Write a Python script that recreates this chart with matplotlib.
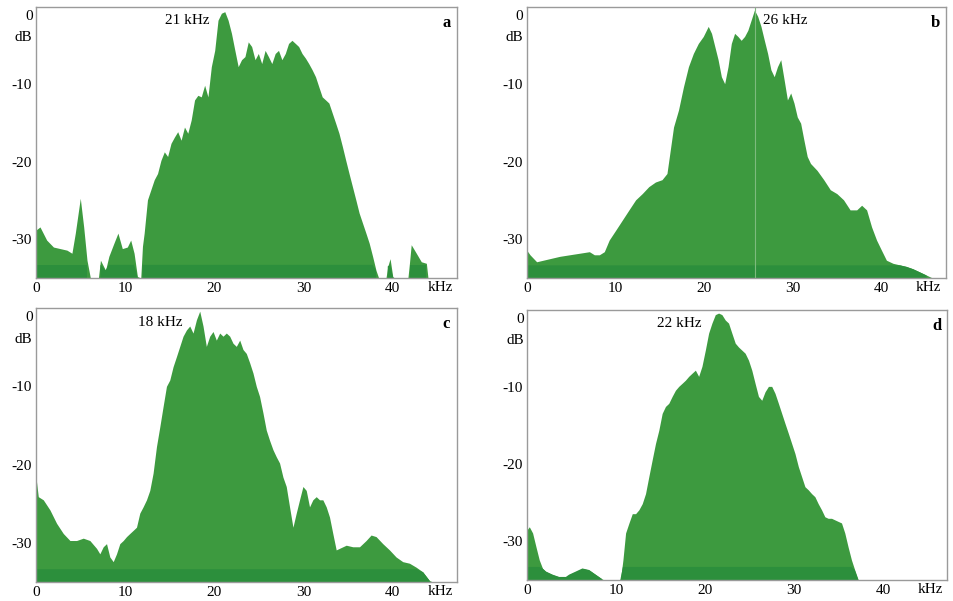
import numpy as np
import matplotlib.pyplot as plt

plt.rcParams["axes.unicode_minus"] = False

GREEN = "#3d9a3f"
BAND_GREEN = "#2c8f3c"
FRAME = "#9a9a9a"
FONT = "Liberation Serif"
FLOOR = -35
BAND_TOP = -33.3

# panel a, peak 21 kHz
freq_a = [0.0, 0.45, 1.2, 1.96, 3.47, 4.03, 4.41, 4.97, 5.35, 5.72, 6.1, 6.3,
          7.0, 7.23, 7.8, 8.17, 8.74, 9.19, 9.68, 10.24, 10.62, 11.0, 11.37, 11.75,
          11.94, 12.13, 12.5, 12.88, 13.26, 13.63, 14.01, 14.39, 14.76, 15.14,
          15.52, 15.89, 16.27, 16.65, 17.02, 17.4, 17.78, 18.15, 18.53, 18.91,
          19.28, 19.66, 20.04, 20.41, 20.79, 21.17, 21.54, 21.92, 22.3, 22.67,
          23.05, 23.43, 23.8, 24.18, 24.56, 24.93, 25.31, 25.69, 26.06, 26.44,
          26.82, 27.19, 27.57, 27.95, 28.32, 28.7, 29.08, 29.45, 29.83, 30.21,
          30.58, 30.96, 31.34, 31.71, 32.09, 32.47, 32.84, 33.22, 33.6, 33.97,
          34.35, 34.73, 35.1, 35.48, 35.86, 36.23, 36.61, 36.99, 37.36, 37.74,
          38.12, 38.42, 38.6, 39.24, 39.44, 39.7, 40.0, 40.2, 41.7, 41.88, 42.07,
          42.64, 43.2, 43.77, 43.95, 44.14, 47.2]
db_a = [-28.8, -28.4, -30.1, -31.0, -31.4, -31.8, -29.2, -24.7, -28.4, -32.7, -35.0, -36,
        -36, -32.7, -34.0, -32.2, -30.5, -29.2, -31.2, -31.0, -30.1, -31.8, -34.8, -36,
        -30.9, -29.2, -24.9, -23.6, -22.3, -21.5, -19.8, -18.7, -19.3, -17.6,
        -16.8, -16.1, -17.2, -15.5, -16.3, -14.6, -12.0, -11.4, -11.6, -10.1,
        -11.6, -7.7, -5.6, -1.7, -0.8, -0.6, -1.7, -3.4, -5.6, -7.7,
        -6.8, -6.4, -4.5, -5.1, -6.8, -6.0, -7.3, -5.6, -6.4, -7.3,
        -6.0, -5.6, -6.8, -6.0, -4.7, -4.3, -4.7, -5.1, -6.0, -6.6,
        -7.3, -8.1, -9.0, -10.3, -11.6, -12.0, -12.4, -13.7, -15.0, -16.3,
        -18.0, -19.8, -21.5, -23.2, -24.9, -26.6, -27.9, -29.2, -30.5, -32.2,
        -34.0, -35.0, -36, -36, -33.5, -32.5, -34.8, -36, -36, -33.0, -30.7,
        -31.8, -32.9, -33.1, -35.0, -36, -36]

# panel b, peak 26 kHz
freq_b = [0.0, 0.37, 1.12, 1.86, 2.6, 3.72, 4.83, 5.95, 7.06, 7.62, 8.18, 8.74,
          9.29, 10.04, 10.78, 11.52, 12.27, 13.01, 13.75, 14.5, 15.24, 15.8,
          16.17, 16.54, 17.1, 17.66, 18.22, 18.77, 19.33, 19.89, 20.45, 20.82,
          21.19, 21.56, 21.93, 22.3, 22.68, 23.05, 23.42, 23.79, 24.16, 24.54,
          24.91, 25.28, 25.65, 26.02, 26.39, 26.77, 27.14, 27.51, 27.88, 28.25,
          28.62, 29.0, 29.37, 29.74, 30.11, 30.48, 30.86, 31.23, 31.6, 31.97,
          32.71, 33.46, 34.2, 34.94, 35.69, 36.43, 37.17, 37.73, 38.29, 38.85,
          39.41, 39.96, 40.52, 41.26, 42.01, 42.75, 43.49, 44.24, 44.98, 45.72,
          46.28, 47.2]
db_b = [-31.4, -32.0, -32.9, -32.7, -32.5, -32.2, -32.0, -31.8, -31.6, -32.0, -32.0, -31.6,
        -30.1, -28.8, -27.5, -26.2, -24.9, -24.1, -23.2, -22.6, -22.3, -21.5,
        -18.5, -15.5, -13.3, -10.3, -7.7, -6.0, -4.7, -3.8, -2.5, -3.4,
        -5.1, -6.8, -9.0, -9.9, -7.7, -4.7, -3.4, -3.8, -4.3, -3.8,
        -3.0, -1.7, -0.4, -1.2, -2.5, -4.3, -6.0, -8.1, -9.0, -7.7,
        -6.8, -9.4, -12.0, -11.1, -12.4, -14.2, -15.0, -17.2, -19.3, -20.2,
        -21.1, -22.3, -23.6, -24.1, -24.9, -26.2, -26.2, -25.6, -26.2, -28.4,
        -30.1, -31.4, -32.7, -33.1, -33.3, -33.5, -33.8, -34.2, -34.6, -35.0,
        -36, -36]

# panel c, peak 18 kHz
freq_c = [0.0, 0.26, 0.82, 1.57, 2.31, 3.06, 3.81, 4.55, 5.3, 6.04, 6.79, 7.16,
          7.54, 7.91, 8.28, 8.66, 9.03, 9.4, 9.78, 10.15, 10.52, 10.9, 11.27,
          11.64, 12.01, 12.39, 12.76, 13.13, 13.51, 13.88, 14.25, 14.63, 15.0,
          15.37, 15.75, 16.12, 16.49, 16.87, 17.24, 17.61, 17.99, 18.36, 18.73,
          19.1, 19.48, 19.85, 20.22, 20.6, 20.97, 21.34, 21.72, 22.09, 22.46,
          22.84, 23.21, 23.58, 23.96, 24.33, 24.7, 25.07, 25.45, 25.82, 26.19,
          26.57, 26.94, 27.31, 27.69, 28.06, 28.43, 28.81, 29.18, 29.55, 29.93,
          30.3, 30.67, 31.04, 31.42, 31.79, 32.16, 32.54, 32.91, 33.28, 33.66,
          34.03, 34.78, 35.52, 36.27, 37.01, 37.57, 38.13, 38.88, 39.63, 40.37,
          41.12, 41.87, 42.61, 43.36, 44.1, 44.48, 44.85, 47.2]
db_c = [-21.6, -24.1, -24.5, -25.8, -27.5, -28.8, -29.7, -29.7, -29.4, -29.7, -30.7, -31.4,
        -30.5, -30.1, -31.8, -32.4, -31.4, -30.1, -29.7, -29.2, -28.8, -28.4, -28.0,
        -26.2, -25.4, -24.5, -23.3, -21.1, -17.7, -15.2, -12.6, -10.0, -9.2,
        -7.5, -6.2, -4.9, -3.6, -2.8, -2.3, -3.2, -1.5, -0.4, -2.3,
        -4.9, -3.6, -3.0, -4.1, -3.2, -3.6, -3.2, -3.6, -4.5, -4.9,
        -4.1, -5.3, -5.8, -7.0, -8.3, -10.0, -11.3, -13.4, -15.6, -16.9,
        -18.1, -19.0, -19.8, -21.6, -22.8, -25.4, -28.0, -26.2, -24.5, -22.8,
        -23.3, -25.4, -24.5, -24.1, -24.5, -24.5, -25.4, -26.7, -28.8, -30.9,
        -30.7, -30.3, -30.5, -30.5, -29.7, -29.0, -29.2, -30.1, -30.9, -31.8,
        -32.4, -32.6, -33.1, -33.7, -34.8, -35.0, -36, -36]

# panel d, peak 22 kHz
freq_d = [0.0, 0.26, 0.63, 1.01, 1.38, 1.75, 2.13, 2.87, 3.62, 4.37, 4.74, 5.49,
          6.23, 6.98, 7.72, 8.47, 8.84, 10.34, 10.52, 10.78, 11.08, 11.46, 11.83,
          12.2, 12.57, 12.95, 13.32, 13.69, 14.07, 14.44, 14.81, 15.19, 15.56,
          15.93, 16.31, 16.68, 17.05, 17.43, 17.8, 18.17, 18.54, 18.92, 19.29,
          19.66, 20.04, 20.41, 20.78, 21.16, 21.53, 21.9, 22.28, 22.65, 23.02,
          23.4, 23.77, 24.14, 24.51, 24.89, 25.26, 25.63, 26.01, 26.38, 26.75,
          27.13, 27.5, 27.87, 28.25, 28.62, 28.99, 29.37, 29.74, 30.11, 30.49,
          30.86, 31.23, 31.6, 31.98, 32.35, 32.72, 33.1, 33.47, 33.84, 34.22,
          34.59, 34.96, 35.34, 35.71, 36.08, 36.46, 36.83, 37.2, 37.39, 47.2]
db_d = [-28.5, -28.1, -28.9, -30.7, -32.4, -33.5, -33.9, -34.3, -34.6, -34.6, -34.3, -33.9,
        -33.5, -33.7, -34.3, -34.9, -36, -36, -34.8, -32.4, -28.9, -27.6, -26.4,
        -26.4, -25.9, -25.1, -23.8, -21.6, -19.4, -17.3, -15.6, -13.4, -12.5,
        -12.1, -11.2, -10.4, -9.9, -9.5, -9.1, -8.6, -8.2, -7.8, -8.6,
        -7.3, -5.2, -3.0, -1.7, -0.6, -0.4, -0.6, -1.3, -1.7, -3.0,
        -4.3, -4.8, -5.2, -5.6, -6.5, -7.8, -9.5, -11.2, -11.7, -10.6,
        -9.9, -9.9, -10.8, -12.1, -13.4, -14.7, -16.0, -17.3, -18.6, -20.3,
        -21.6, -22.9, -23.3, -23.8, -24.2, -25.1, -25.9, -26.8, -27.0, -27.0,
        -27.2, -27.4, -27.6, -28.9, -30.7, -32.4, -33.7, -34.9, -36, -36]

PANELS = [
    # freq, db, letter, peak label, label x (kHz), label alignment, axes rect
    (freq_a, db_a, "a", "21 kHz", 17.0, "center", [0.0377, 0.5374, 0.4413, 0.4509]),
    (freq_b, db_b, "b", "26 kHz", 26.6, "left", [0.5521, 0.5374, 0.4392, 0.4509]),
    (freq_c, db_c, "c", "18 kHz", 13.9, "center", [0.0377, 0.0316, 0.4413, 0.4559]),
    (freq_d, db_d, "d", "22 kHz", 17.1, "center", [0.5524, 0.0349, 0.4403, 0.4493]),
]


def draw_panel(fig, freq, db, letter, peak_label, label_x, label_ha, rect):
    ax = fig.add_axes(rect)
    f = np.array(freq)
    d = np.clip(np.array(db), FLOOR, 0)

    ax.fill_between(f, FLOOR, d, color=GREEN, linewidth=0)
    ax.fill_between(f, FLOOR, np.minimum(d, BAND_TOP), where=d > FLOOR,
                    color=BAND_GREEN, linewidth=0)
    if letter == "b":
        ax.axvline(25.7, color="#7dbb7d", linewidth=0.8)

    ax.set_xlim(0, 47.2)
    ax.set_ylim(FLOOR, 0)
    ax.set_xticks([0, 10, 20, 30, 40])
    ax.set_yticks([-10, -20, -30])
    ax.tick_params(length=0, labelsize=11, pad=3)
    for lab in ax.get_xticklabels() + ax.get_yticklabels():
        lab.set_fontfamily(FONT)
    for spine in ax.spines.values():
        spine.set_color(FRAME)
        spine.set_linewidth(1.0)

    ax.text(-0.008, 0.99, "0", transform=ax.transAxes, ha="right", va="top",
            fontsize=11, family=FONT)
    ax.text(-0.008, 0.91, "dB", transform=ax.transAxes, ha="right", va="top",
            fontsize=11, family=FONT)
    ax.text(45.3, -0.012, "kHz", transform=ax.get_xaxis_transform(),
            ha="center", va="top", fontsize=11, family=FONT)
    ax.text(label_x, -1.8, peak_label, ha=label_ha, va="center",
            fontsize=11, family=FONT)
    ax.text(0.975, 0.94, letter, transform=ax.transAxes, ha="center",
            va="center", fontsize=12, family=FONT, fontweight="bold")


fig = plt.figure(figsize=(9.54, 6.01), dpi=100)
for freq, db, letter, peak_label, label_x, label_ha, rect in PANELS:
    draw_panel(fig, freq, db, letter, peak_label, label_x, label_ha, rect)

fig.savefig("out.png", dpi=100)
